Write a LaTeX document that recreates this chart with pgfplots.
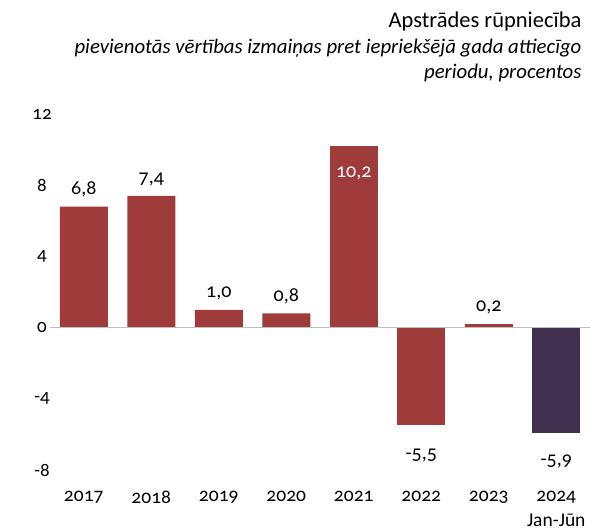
\documentclass[border=0pt]{standalone}
\usepackage{pgfplots}
\pgfplotsset{compat=1.18}
\usepackage{fontspec}
\setmainfont{Carlito}[Numbers=OldStyle]
\definecolor{barred}{HTML}{A03B3B}
\definecolor{barpurple}{HTML}{40304F}
\definecolor{zeroline}{HTML}{BFBFBF}
\begin{document}
\begin{tikzpicture}[x=1bp,y=1bp]
\useasboundingbox (0,0) rectangle (603,531);
\node[anchor=base east, font=\fontsize{22.5bp}{26bp}\selectfont] at (585,503) {Apstrādes rūpniecība};
\node[anchor=north east, align=right, font=\fontsize{20.8bp}{25bp}\selectfont\itshape] at (585,495) {pievienotās vērtības izmaiņas pret iepriekšējā gada attiecīgo\\periodu, procentos};
\begin{axis}[
  at={(50bp,61bp)}, anchor=south west,
  scale only axis, width=540bp, height=356bp,
  xmin=-0.5, xmax=7.5, ymin=-8, ymax=12,
  ytick={-8,-4,0,4,8,12},
  xtick={0,1,2,3,4,5,6,7},
  xticklabels={2017,2018,2019,2020,2021,2022,2023,{2024\\Jan-Jūn}},
  xticklabel style={align=center, anchor=north, yshift=-13bp, font=\fontsize{19.5bp}{25bp}\selectfont},
  yticklabel style={anchor=center, font=\fontsize{19bp}{20bp}\selectfont},
  yticklabel={\pgfmathprintnumber{\tick}},
  every y tick label/.append style={xshift=-8bp},
  /pgf/number format/assume math mode=true,
  axis line style={draw=none}, major tick style={draw=none},
  ybar, bar width=48bp, bar shift=0pt,
  clip=false,
  nodes near coords style={font=\fontsize{20bp}{22bp}\selectfont, text=black},
  point meta=explicit symbolic,
]
\addplot[fill=barred, draw=none, nodes near coords, nodes near coords style={anchor=south, yshift=6bp}]
  table[meta=l] {
x y l
0 6.8 {6,8}
1 7.4 {7,4}
2 1.0 {1,0}
3 0.8 {0,8}
6 0.2 {0,2}
};
\addplot[fill=barred, draw=none, nodes near coords, nodes near coords style={anchor=north, yshift=-17bp, text=white}]
  table[meta=l] {
x y l
4 10.2 {10,2}
};
\addplot[fill=barred, draw=none, nodes near coords, nodes near coords style={anchor=north, yshift=-20bp}]
  table[meta=l] {
x y l
5 -5.5 {-5,5}
};
\addplot[fill=barpurple, draw=none, nodes near coords, nodes near coords style={anchor=north, yshift=-19bp}]
  table[meta=l] {
x y l
7 -5.9 {-5,9}
};
\draw[zeroline, line width=1bp] (axis cs:-0.5,0) -- (axis cs:7.5,0);
\end{axis}
\end{tikzpicture}
\end{document}
